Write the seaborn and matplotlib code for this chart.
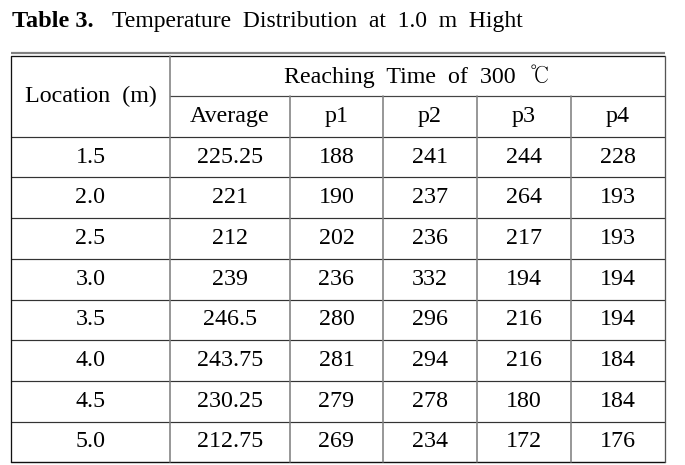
import matplotlib.pyplot as plt
import seaborn as sns

# table contents
locations = ["1.5", "2.0", "2.5", "3.0", "3.5", "4.0", "4.5", "5.0"]
average = [225.25, 221, 212, 239, 246.5, 243.75, 230.25, 212.75]
p1 = [188, 190, 202, 236, 280, 281, 279, 269]
p2 = [241, 237, 236, 332, 296, 294, 278, 234]
p3 = [244, 264, 217, 194, 216, 216, 180, 172]
p4 = [228, 193, 193, 194, 194, 184, 184, 176]
sub_headers = ["Average", "p1", "p2", "p3", "p4"]
group_header = "Reaching  Time  of  300  \u2103"
first_header = "Location  (m)"
title_bold = "Table 3."
title_rest = "Temperature  Distribution  at  1.0  m  Hight"

sns.set_theme(style="white")
# Liberation Serif for latin, Batang only for the degree sign
plt.rcParams["font.family"] = ["Liberation Serif", "Batang", "Noto Sans CJK KR"]
plt.rcParams["text.color"] = "black"

# layout in pixels
col_edges = [11, 170, 290, 383, 477, 571, 665]
head_top, head_mid, body_top = 56, 96, 136.7
row_h = 40.7
cell_size = 17.3
px = 0.72

fig = plt.figure(figsize=(6.85, 4.65), dpi=100)
ax = fig.add_axes([0, 0, 1, 1])
ax.set_xlim(0, 685)
ax.set_ylim(465, 0)
ax.axis("off")

# title
ax.text(12, 27, title_bold, fontsize=17.5, fontweight="bold", va="baseline", ha="left")
ax.text(112, 27, title_rest, fontsize=17, va="baseline", ha="left")

left, right = col_edges[0], col_edges[-1]
n_rows = len(locations)
bottom = body_top + n_rows * row_h

# top rules
ax.plot([left, right], [53, 53], color="#808080", lw=2.2 * px, solid_capstyle="butt")
ax.plot([left, right], [head_top, head_top], color="#111111", lw=1.3 * px, solid_capstyle="butt")

# horizontal lines
ax.plot([col_edges[1], right], [head_mid, head_mid], color="#444444", lw=1.2 * px)
for i in range(n_rows):
    y = body_top + i * row_h
    ax.plot([left, right], [y, y], color="#333333", lw=1.2 * px)
ax.plot([left, right], [bottom, bottom], color="#111111", lw=1.4 * px)

# vertical lines
ax.plot([left, left], [head_top, bottom], color="#111111", lw=1.3 * px)
ax.plot([right, right], [head_top, bottom], color="#555555", lw=1.3 * px)
ax.plot([col_edges[1], col_edges[1]], [head_top, bottom], color="#808080", lw=1.6 * px)
for x in col_edges[2:-1]:
    ax.plot([x, x], [head_mid, bottom], color="#808080", lw=1.6 * px)

centers = [(col_edges[i] + col_edges[i + 1]) / 2 for i in range(len(col_edges) - 1)]

# headers
ax.text(centers[0], (head_top + body_top) / 2, first_header, fontsize=cell_size,
        ha="center", va="center")
ax.text((col_edges[1] + right) / 2, (head_top + head_mid) / 2, group_header,
        fontsize=cell_size, ha="center", va="center")
for c, h in zip(centers[1:], sub_headers):
    ax.text(c, (head_mid + body_top) / 2, h, fontsize=cell_size, ha="center", va="center")

# body
for i in range(n_rows):
    yc = body_top + (i + 0.5) * row_h
    row = [locations[i], f"{average[i]:g}", p1[i], p2[i], p3[i], p4[i]]
    for c, v in zip(centers, row):
        ax.text(c, yc, str(v), fontsize=cell_size, ha="center", va="center")

fig.savefig("out.png", dpi=100, facecolor="white")
